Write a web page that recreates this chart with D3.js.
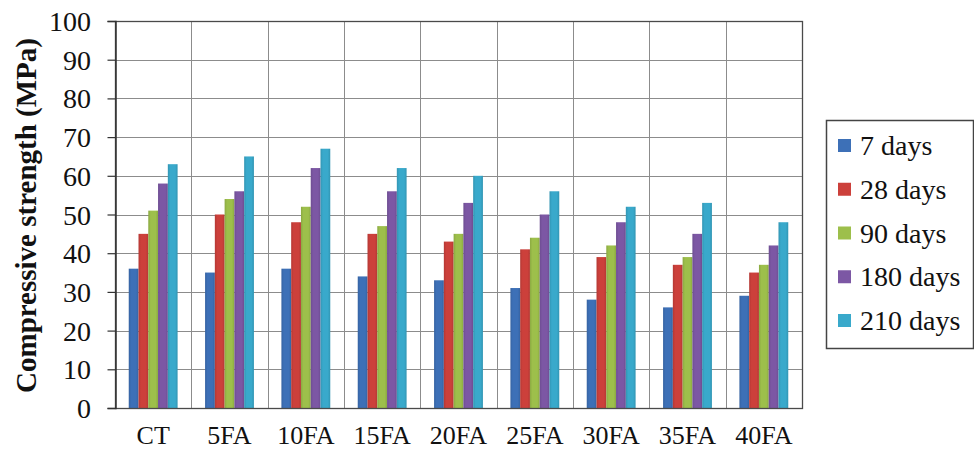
<!DOCTYPE html>
<html>
<head>
<meta charset="utf-8">
<script src="https://cdn.jsdelivr.net/npm/d3@7"></script>
<style>
  html, body { margin: 0; padding: 0; background: #fff; }
  svg text { font-family: "Times New Roman" !important; }
</style>
</head>
<body>
<svg id="chart" width="974" height="461"></svg>
<script>
const categories = ["CT", "5FA", "10FA", "15FA", "20FA", "25FA", "30FA", "35FA", "40FA"];
const seriesNames = ["7 days", "28 days", "90 days", "180 days", "210 days"];
const days7   = [36, 35, 36, 34, 33, 31, 28, 26, 29];
const days28  = [45, 50, 48, 45, 43, 41, 39, 37, 35];
const days90  = [51, 54, 52, 47, 45, 44, 42, 39, 37];
const days180 = [58, 56, 62, 56, 53, 50, 48, 45, 42];
const days210 = [63, 65, 67, 62, 60, 56, 52, 53, 48];
const yTicks = [0, 10, 20, 30, 40, 50, 60, 70, 80, 90, 100];
const colors = ["#3d70b7", "#cc403b", "#9dbf4b", "#7c57a4", "#39a9cb"];

const seriesValues = [days7, days28, days90, days180, days210];
const FONT = '"Times New Roman"';

const svg = d3.select("#chart");
const pLeft = 115, pRight = 802, pTop = 21, pBottom = 408;

const x = d3.scaleBand().domain(categories).range([pLeft, pRight]).padding(0);
const bw = x.bandwidth();
const groupW = bw * 0.64;
const xs = d3.scaleBand().domain(seriesNames).range([0, groupW]).padding(0);
const y = d3.scaleLinear().domain([0, 100]).range([pBottom, pTop]);

// gradients for subtle bar shading
const defs = svg.append("defs");
colors.forEach((c, i) => {
  const g = defs.append("linearGradient").attr("id", "g" + i)
    .attr("x1", "0%").attr("x2", "100%").attr("y1", "0%").attr("y2", "0%");
  const dark = d3.color(c).darker(0.35).formatHex();
  g.append("stop").attr("offset", "0%").attr("stop-color", dark);
  g.append("stop").attr("offset", "25%").attr("stop-color", c);
  g.append("stop").attr("offset", "75%").attr("stop-color", c);
  g.append("stop").attr("offset", "100%").attr("stop-color", dark);
});

// horizontal gridlines
svg.append("g").selectAll("line").data(yTicks.filter(t => t > 0)).join("line")
  .attr("x1", pLeft).attr("x2", pRight)
  .attr("y1", d => Math.round(y(d)) + 0.5).attr("y2", d => Math.round(y(d)) + 0.5)
  .attr("stroke", "#8c8c8c").attr("stroke-width", 1);

// vertical gridlines at category boundaries
svg.append("g").selectAll("line").data(categories.slice(1)).join("line")
  .attr("x1", d => Math.round(x(d)) + 0.5).attr("x2", d => Math.round(x(d)) + 0.5)
  .attr("y1", pTop).attr("y2", pBottom)
  .attr("stroke", "#8c8c8c").attr("stroke-width", 1);

// bars
const barData = [];
categories.forEach((c, ci) => {
  seriesNames.forEach((s, si) => {
    barData.push({ cat: c, s, si, v: seriesValues[si][ci] });
  });
});
svg.append("g").selectAll("rect").data(barData).join("rect")
  .attr("x", d => x(d.cat) + (bw - groupW) / 2 + xs(d.s))
  .attr("width", xs.bandwidth())
  .attr("y", d => y(d.v))
  .attr("height", d => y(0) - y(d.v))
  .attr("fill", d => "url(#g" + d.si + ")");

// plot border
svg.append("rect").attr("x", pLeft + 0.5).attr("y", pTop + 0.5)
  .attr("width", pRight - pLeft).attr("height", pBottom - pTop)
  .attr("fill", "none").attr("stroke", "#4a4a4a").attr("stroke-width", 1.3);

// y axis ticks (lines from axis generator; labels drawn as plain text)
const yAxis = d3.axisLeft(y).tickValues(yTicks).tickSize(8).tickFormat("");
const ya = svg.append("g").attr("transform", `translate(${pLeft + 0.5},0)`).call(yAxis);
ya.select(".domain").attr("stroke", "#333").attr("stroke-width", 1.5);
ya.selectAll(".tick line").attr("stroke", "#333").attr("stroke-width", 1.2);
ya.selectAll(".tick text").remove();
svg.append("g").selectAll("text").data(yTicks).join("text")
  .attr("x", 91).attr("y", d => y(d) + 10)
  .attr("text-anchor", "end")
  .attr("font-family", "Times New Roman")
  .style("font-family", FONT).style("font-size", "28px").attr("fill", "#111")
  .text(d => d);

// x category labels
svg.append("g").selectAll("text").data(categories).join("text")
  .attr("x", d => x(d) + bw / 2).attr("y", 444)
  .attr("text-anchor", "middle")
  .attr("font-family", "Times New Roman")
  .style("font-family", FONT).style("font-size", "26px").attr("fill", "#111")
  .text(d => d);

// y title
svg.append("text")
  .attr("transform", `translate(36, ${(38 + 393) / 2}) rotate(-90)`)
  .attr("text-anchor", "middle")
  .attr("font-family", "Times New Roman")
  .style("font-family", FONT).style("font-size", "29px").style("font-weight", "bold")
  .attr("fill", "#111")
  .text("Compressive strength (MPa)");

// legend
const lg = svg.append("g");
lg.append("rect").attr("x", 826.5).attr("y", 120.5).attr("width", 147).attr("height", 228)
  .attr("fill", "#fff").attr("stroke", "#444").attr("stroke-width", 1.5);
const rowY = d3.scalePoint().domain(seriesNames).range([145, 320]);
seriesNames.forEach((s, i) => {
  lg.append("rect").attr("x", 838).attr("y", rowY(s) - 6).attr("width", 13).attr("height", 13)
    .attr("fill", colors[i]);
  lg.append("text").attr("x", 860).attr("y", rowY(s) + 10)
    .attr("font-family", "Times New Roman")
    .style("font-family", FONT).style("font-size", "28px").attr("fill", "#111")
    .text(s);
});
</script>
</body>
</html>
